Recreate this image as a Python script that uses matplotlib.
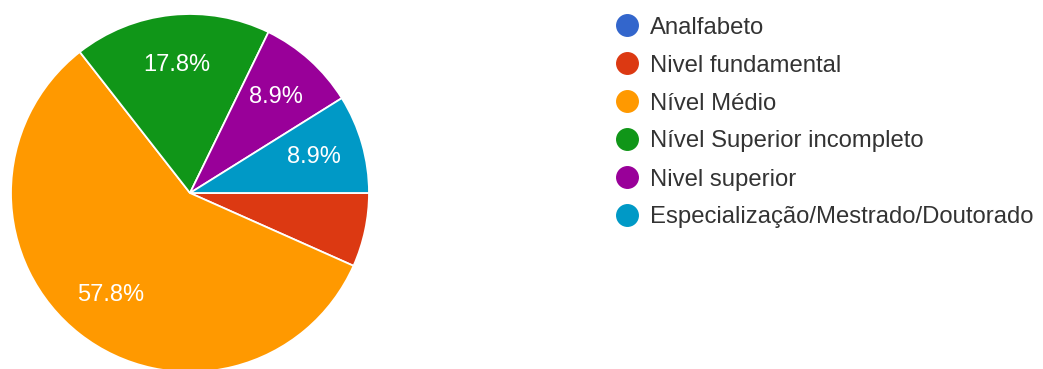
import matplotlib
matplotlib.use("Agg")
import matplotlib.pyplot as plt

categories = [
    "Analfabeto",
    "Nivel fundamental",
    "Nível Médio",
    "Nível Superior incompleto",
    "Nivel superior",
    "Especialização/Mestrado/Doutorado",
]
counts = [0, 3, 26, 8, 4, 4]
colors = ["#3366cc", "#dc3912", "#ff9900", "#109618", "#990099", "#0099c6"]

plt.rcParams["font.family"] = ["Liberation Sans", "DejaVu Sans"]

W, H = 1043, 369
fig = plt.figure(figsize=(W / 100, H / 100), dpi=100)

# pie axes placed in pixel units: centre (190, 193), radius 179
cx, cy, r = 190, 193, 179
ax = fig.add_axes([(cx - r) / W, (H - cy - r) / H, 2 * r / W, 2 * r / H])


def fmt(p):
    return f"{p:.1f}%" if p >= 8 else ""


wedges, texts, autotexts = ax.pie(
    counts,
    colors=colors,
    startangle=0,
    counterclock=False,
    autopct=fmt,
    pctdistance=0.72,
    wedgeprops=dict(edgecolor="white", linewidth=1.3),
    textprops=dict(color="white", fontsize=17),
)
ax.set_xlim(-1, 1)
ax.set_ylim(-1, 1)
ax.set_aspect("equal")
ax.axis("off")

# legend
lx_marker, lx_text = 627, 650
y0, dy = 25, 38
for i, (lab, col) in enumerate(zip(categories, colors)):
    y = y0 + i * dy
    fig.lines.append(
        plt.Line2D([lx_marker / W], [1 - y / H], transform=fig.transFigure,
                   marker="o", markersize=15.5, color=col, linestyle="none")
    )
    fig.text(lx_text / W, 1 - y / H, lab, fontsize=17.2, color="#333333",
             va="center_baseline", ha="left")

fig.savefig("out.png", dpi=100, facecolor="white")
